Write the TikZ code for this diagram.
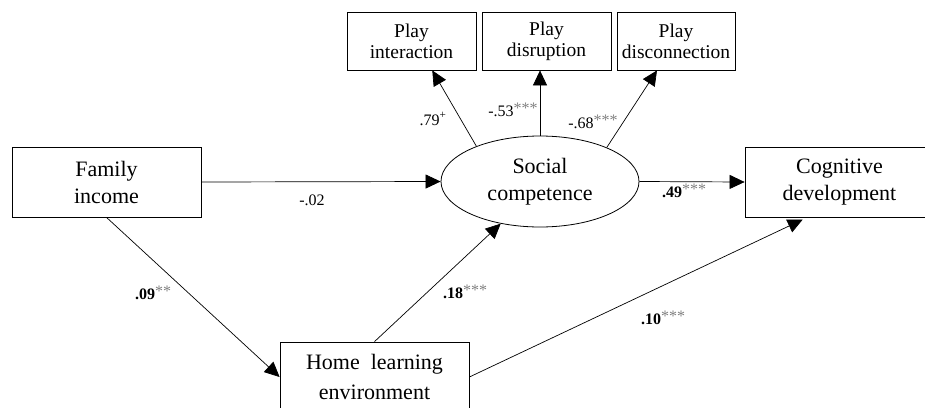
\documentclass[tikz,border=0pt]{standalone}
\usepackage{fontspec}
\setmainfont{Liberation Serif}
\usetikzlibrary{arrows.meta,shapes.geometric,calc}
\newcommand\sig[1]{\raisebox{2.5pt}{\textcolor{gray}{#1}}}
\tikzset{
  varbox/.style={draw, line width=0.8pt, rectangle, minimum width=189pt, minimum height=70pt, inner sep=0pt, align=center, font=\fontsize{22}{27}\selectfont},
  playbox/.style={draw, line width=0.8pt, rectangle, minimum height=58pt, inner sep=0pt, align=center, font=\fontsize{19.5}{21}\selectfont},
  latent/.style={draw, line width=0.8pt, ellipse, minimum width=198pt, minimum height=91pt, inner sep=0pt, align=center, font=\fontsize{22}{27}\selectfont},
  pathar/.style={draw, line width=0.7pt, -{Triangle[length=15pt,width=14pt]}},
  coef/.style={font=\fontsize{16}{18}\selectfont, inner sep=0pt}
}
\begin{document}
\begin{tikzpicture}[x=1pt,y=-1pt]
\useasboundingbox (0,0) rectangle (925,407);
\begin{scope}
\clip (0,0) rectangle (925,407);
\node[varbox] (fi) at (106.5,182) {Family\\income};
\node[varbox] (cd) at (839.5,182) {Cognitive\\development};
\node[varbox, font=\fontsize{22}{30}\selectfont] (hl) at (374.5,377) {Home~~learning\\environment};
\node[latent] (sc) at (540,181.5) {Social\\competence};
\node[playbox, minimum width=129pt] (pi) at (411.5,41) {Play\\interaction};
\node[playbox, minimum width=129pt] (pd) at (546.5,41) {Play\\disruption};
\node[playbox, minimum width=118pt] (pc) at (676,41) {Play\\disconnection};

\coordinate (piend) at ($(pi.south west)!0.66!(pi.south east)$);
\coordinate (pcend) at ($(pc.south west)!0.34!(pc.south east)$);
\coordinate (cdend) at ($(cd.south west)!0.33!(cd.south east)$);

\draw[pathar] (sc.151) -- (piend);
\draw[pathar] (sc.north) -- (sc.north |- pd.south);
\draw[pathar] (sc.27) -- (pcend);
\draw[pathar] (fi.east) -- (sc.west);
\draw[pathar] (sc.east) -- (cd.west);
\draw[pathar] (fi.south) -- (hl.west);
\draw[pathar] (hl.north) -- (sc.227);
\draw[pathar, shorten >=5pt] (hl.east) -- (cdend);

\node[coef] (l1) at (433,119) {.79\textsuperscript{+}};
\node[coef] (l2) at (513,110) {-.53\sig{***}};
\node[coef] (l3) at (593,122) {-.68\sig{***}};
\node[coef] (l4) at (312,200) {-.02};
\node[coef] (l5) at (684,191) {\textbf{.49}\sig{***}};
\node[coef] (l6) at (153,293) {\textbf{.09}\sig{**}};
\node[coef] (l7) at (465,292) {\textbf{.18}\sig{***}};
\node[coef] (l8) at (663,318) {\textbf{.10}\sig{***}};
\end{scope}
\end{tikzpicture}
\end{document}
